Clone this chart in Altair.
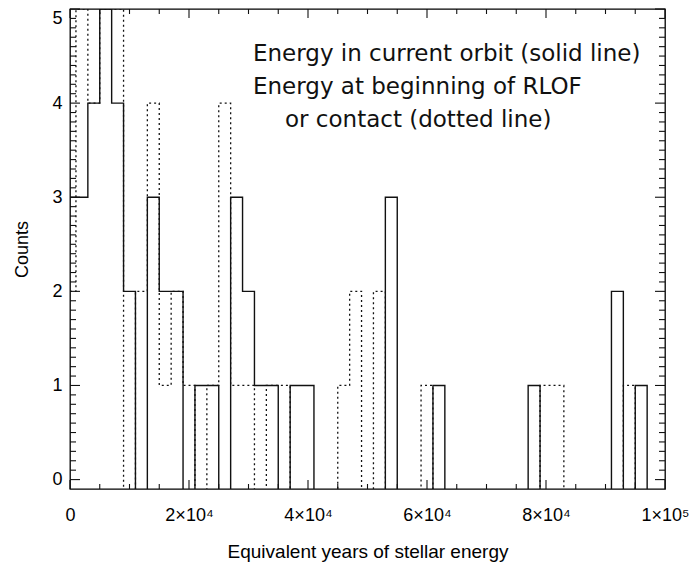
import altair as alt
import pandas as pd

# ---- data ----
bin_centers = [0, 2000, 4000, 6000, 8000, 10000, 12000, 14000, 16000, 18000,
               20000, 22000, 24000, 26000, 28000, 30000, 32000, 34000, 36000, 38000,
               40000, 42000, 44000, 46000, 48000, 50000, 52000, 54000, 56000, 58000,
               60000, 62000, 64000, 66000, 68000, 70000, 72000, 74000, 76000, 78000,
               80000, 82000, 84000, 86000, 88000, 90000, 92000, 94000, 96000, 98000]
solid_counts = [3, 3, 4, 5, 4, 2, 0, 3, 2, 2,
                0, 1, 1, 0, 3, 2, 1, 1, 0, 1,
                1, 0, 0, 0, 0, 0, 0, 3, 0, 0,
                0, 1, 0, 0, 0, 0, 0, 0, 0, 1,
                0, 0, 0, 0, 0, 0, 2, 0, 1, 0]
dotted_counts = [2, 5, 4, 5, 5, 0, 2, 4, 1, 2,
                 1, 0, 1, 4, 1, 1, 0, 1, 1, 0,
                 0, 0, 0, 1, 2, 0, 2, 0, 0, 0,
                 1, 0, 0, 0, 0, 0, 0, 0, 0, 0,
                 1, 1, 0, 0, 0, 0, 0, 1, 0, 0]
x_tick_values = [0, 20000, 40000, 60000, 80000, 100000]
x_tick_labels = ["0", "2×10⁴", "4×10⁴", "6×10⁴", "8×10⁴", "1×10⁵"]
y_tick_values = [0, 1, 2, 3, 4, 5]
x_minor_values = [5000 * i for i in range(21) if i % 4 != 0]
y_minor_values = [round(0.1 * i, 1) for i in range(1, 50) if i % 10 != 0]
annotation_lines = ["Energy in current orbit (solid line)",
                    "Energy at beginning of RLOF",
                    "or contact (dotted line)"]
x_title = "Equivalent years of stellar energy"
y_title = "Counts"

W, H = 595, 480
INK = "#111111"

hist = pd.DataFrame({
    "energy": bin_centers + bin_centers,
    "count": solid_counts + dotted_counts,
    "series": ["solid"] * len(bin_centers) + ["dotted"] * len(bin_centers),
})

xscale = alt.Scale(domain=[0, 100000], nice=False, zero=False)
yscale = alt.Scale(domain=[-0.1, 5], nice=False, zero=False)

label_array = "[" + ",".join("'" + s + "'" for s in x_tick_labels) + "]"

x_axis = alt.Axis(values=x_tick_values, labelExpr=label_array + "[round(datum.value/20000)]",
                  ticks=False, domain=False, grid=False, labelFontSize=18, labelFlush=False,
                  labelPadding=17, labelBaseline="top", title=x_title,
                  titleFontSize=19, titleY=62, titleBaseline="middle")
y_axis = alt.Axis(values=y_tick_values, format="d", ticks=False, domain=False,
                  grid=False, labelFontSize=18, labelPadding=8, labelFlush=True,
                  title=y_title, titleFontSize=18, titleX=-48, titleY=H / 2,
                  titleAngle=-90, titleBaseline="middle", titleAlign="center")


def X():
    return alt.X("energy:Q", scale=xscale, axis=x_axis, title=x_title)


def Y():
    return alt.Y("yplot:Q", scale=yscale, axis=y_axis, title=y_title)


base = alt.Chart(hist).transform_calculate(
    yplot="datum.count == 0 ? -1 : datum.count"
)

dotted = base.transform_filter("datum.series == 'dotted'").mark_line(
    interpolate="step", color=INK, strokeWidth=1.3, strokeDash=[2, 3], clip=True
).encode(x=X(), y=Y())

solid = base.transform_filter("datum.series == 'solid'").mark_line(
    interpolate="step", color=INK, strokeWidth=1.4, clip=True
).encode(x=X(), y=Y())

ymaj = pd.DataFrame({"yplot": y_tick_values})
ymin = pd.DataFrame({"yplot": y_minor_values})
xmaj = pd.DataFrame({"energy": x_tick_values})
xmin = pd.DataFrame({"energy": x_minor_values})


def yticks(df, x0, x1):
    return alt.Chart(df).mark_rule(color=INK, strokeWidth=1.1).encode(
        y=Y(), x=alt.value(x0), x2=alt.value(x1))


def xticks(df, y0, y1):
    return alt.Chart(df).mark_rule(color=INK, strokeWidth=1.1).encode(
        x=X(), y=alt.value(y0), y2=alt.value(y1))


ticks = [
    yticks(ymaj, 0, 10), yticks(ymin, 0, 6),
    yticks(ymaj, W, W - 10), yticks(ymin, W, W - 6),
    xticks(xmaj, H, H - 9), xticks(xmin, H, H - 5),
    xticks(xmaj, 0, 9), xticks(xmin, 0, 5),
]

ann = pd.DataFrame({"t": annotation_lines})


def text_line(i, x, y):
    return alt.Chart(ann).transform_filter(
        alt.datum.t == annotation_lines[i]
    ).mark_text(align="left", baseline="alphabetic", font="DejaVu Sans",
                fontSize=23, color=INK).encode(
        text="t:N", x=alt.value(x), y=alt.value(y))


texts = [text_line(0, 183, 52), text_line(1, 183, 85), text_line(2, 215, 118)]

chart = alt.layer(dotted, solid, *ticks, *texts).properties(
    width=W, height=H,
    padding={"left": 62, "top": 1, "right": 24, "bottom": 77},
    autosize=alt.AutoSizeParams(type="none"),
    background="white",
).configure_view(
    stroke="black", strokeWidth=1.3
).configure_axis(
    labelFont="Liberation Sans", titleFont="Liberation Sans",
    labelColor="black", titleColor="black", titleFontWeight="normal"
)

chart.save("out.html", embed_options={"renderer": "svg", "actions": False})
